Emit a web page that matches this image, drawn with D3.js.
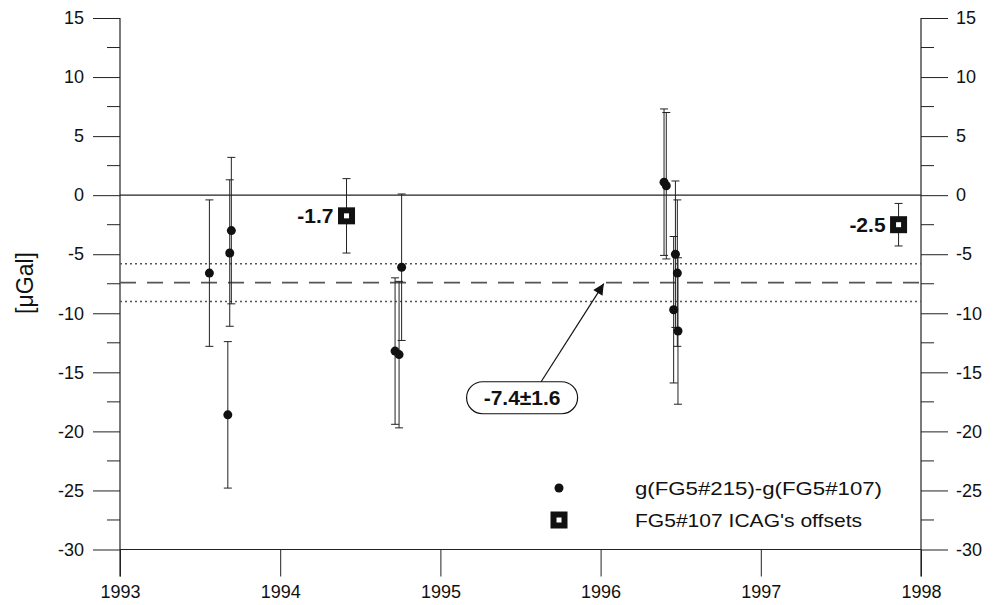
<!DOCTYPE html>
<html><head>
<meta charset="utf-8">
<script src="https://d3js.org/d3.v7.min.js"></script>
<style>
  body { margin: 0; background: #fff; }
  text { font-family: "Liberation Sans", Arial, sans-serif; fill: #111; }
</style>
</head>
<body>
<svg id="chart" width="993" height="605"></svg>
<script>
// --- data ---
// g(FG5#215) - g(FG5#107) comparisons
const dotYears   = [1993.558, 1993.673, 1993.685, 1993.695, 1994.717, 1994.742, 1994.758,
                    1996.396, 1996.410, 1996.456, 1996.467, 1996.479, 1996.483];
const dotOffsets = [-6.6, -18.6, -4.9, -3.0, -13.2, -13.5, -6.1,
                    1.1, 0.8, -9.7, -5.0, -6.6, -11.5];
const dotErrors  = [6.2, 6.2, 6.2, 6.2, 6.2, 6.2, 6.2, 6.2, 6.2, 6.2, 6.2, 6.2, 6.2];

// FG5#107 offsets at the ICAG comparisons
const icagYears   = [1994.414, 1997.86];
const icagOffsets = [-1.75, -2.5];
const icagErrors  = [3.15, 1.8];
const icagLabels  = ["-1.7", "-2.5"];

// weighted mean and its band
const meanOffset = -7.4;
const meanSigma = 1.6;
const meanLabel = "-7.4\u00b11.6";

const xTicks = [1993, 1994, 1995, 1996, 1997, 1998];
const yTicks = [-30, -25, -20, -15, -10, -5, 0, 5, 10, 15];
const yMinorTicks = [-27.5, -22.5, -17.5, -12.5, -7.5, -2.5, 2.5, 7.5, 12.5];

const legendLabels = ["g(FG5#215)-g(FG5#107)", "FG5#107 ICAG's offsets"];

// --- layout ---
let svg = d3.select("#chart");
let x = d3.scaleLinear().domain([1993, 1998]).range([120, 921]);
let y = d3.scaleLinear().domain([-30, 15]).range([549.5, 18]);
const tickLen = 27, minorLen = 13;
const lineCol = "#222";
const plainFmt = d => String(d); // hyphen minus, like the original

// vertical axis lines (run down past -30 to hold the year ticks)
[1993, 1998].forEach(v => {
  svg.append("line")
    .attr("x1", x(v)).attr("x2", x(v))
    .attr("y1", y(15)).attr("y2", y(-30) + tickLen)
    .attr("stroke", lineCol).attr("stroke-width", 1.2);
});

// left & right ticks
let leftAxis = d3.axisLeft(y).tickValues(yTicks).tickSize(tickLen).tickPadding(9).tickFormat(plainFmt);
let rightAxis = d3.axisRight(y).tickValues(yTicks).tickSize(tickLen).tickPadding(8).tickFormat(plainFmt);
[[leftAxis, x(1993)], [rightAxis, x(1998)]].forEach(([ax, px]) => {
  let g = svg.append("g").attr("transform", "translate(" + px + ",0)").call(ax);
  g.select(".domain").remove();
  g.selectAll("line").attr("stroke", lineCol);
  g.selectAll("text").style("font-size", "18px").attr("fill", "#111").style("font-family", "Liberation Sans, Arial");
});
yMinorTicks.forEach(v => {
  svg.append("line").attr("x1", x(1993) - minorLen).attr("x2", x(1993))
    .attr("y1", y(v)).attr("y2", y(v)).attr("stroke", lineCol);
  svg.append("line").attr("x1", x(1998)).attr("x2", x(1998) + minorLen)
    .attr("y1", y(v)).attr("y2", y(v)).attr("stroke", lineCol);
});

// bottom axis sits on -30
let bottomAxis = d3.axisBottom(x).tickValues(xTicks).tickSize(tickLen).tickPadding(9).tickFormat(plainFmt);
let gb = svg.append("g").attr("transform", "translate(0," + y(-30) + ")").call(bottomAxis);
gb.select(".domain").remove();
gb.selectAll("line").attr("stroke", lineCol);
gb.selectAll("text").style("font-size", "18px").attr("fill", "#111").style("font-family", "Liberation Sans, Arial");

// horizontal lines at 0 and -30
[0, -30].forEach(v => {
  svg.append("line").attr("x1", x(1993)).attr("x2", x(1998))
    .attr("y1", y(v)).attr("y2", y(v)).attr("stroke", lineCol).attr("stroke-width", 1.2);
});

// mean and 1-sigma band
svg.append("line").attr("x1", x(1993)).attr("x2", x(1998))
  .attr("y1", y(meanOffset)).attr("y2", y(meanOffset))
  .attr("stroke", "#555").attr("stroke-width", 1.8).attr("stroke-dasharray", "16,11");
[meanOffset + meanSigma, meanOffset - meanSigma].forEach(v => {
  svg.append("line").attr("x1", x(1993)).attr("x2", x(1998))
    .attr("y1", y(v)).attr("y2", y(v))
    .attr("stroke", "#555").attr("stroke-width", 1.5).attr("stroke-dasharray", "2,3");
});

// y label
svg.append("text")
  .attr("transform", "translate(33,283) rotate(-90)")
  .attr("text-anchor", "middle")
  .style("font-size", "23px")
  .text("[\u03bcGal]");

// error bars
function errBar(px, v, e) {
  let g = svg.append("g").attr("stroke", "#222").attr("stroke-width", 1);
  g.append("line").attr("x1", px).attr("x2", px).attr("y1", y(v + e)).attr("y2", y(v - e));
  g.append("line").attr("x1", px - 4).attr("x2", px + 4).attr("y1", y(v + e)).attr("y2", y(v + e));
  g.append("line").attr("x1", px - 4).attr("x2", px + 4).attr("y1", y(v - e)).attr("y2", y(v - e));
}
dotYears.forEach((d, i) => errBar(x(d), dotOffsets[i], dotErrors[i]));
icagYears.forEach((d, i) => errBar(x(d), icagOffsets[i], icagErrors[i]));

// dots
svg.selectAll("circle.pt").data(dotYears).join("circle")
  .attr("class", "pt")
  .attr("cx", d => x(d))
  .attr("cy", (d, i) => y(dotOffsets[i]))
  .attr("r", 4.5)
  .attr("fill", "#111");

// open squares
function square(cx, cy) {
  svg.append("rect").attr("x", cx - 5.5).attr("y", cy - 5.5)
    .attr("width", 11).attr("height", 11)
    .attr("fill", "#fff").attr("stroke", "#111").attr("stroke-width", 6);
}
icagYears.forEach((d, i) => {
  square(x(d), y(icagOffsets[i]));
  svg.append("text")
    .attr("x", x(d) - 13).attr("y", y(icagOffsets[i]) + 7.5)
    .attr("text-anchor", "end")
    .style("font-size", "21px").style("font-weight", "bold")
    .text(icagLabels[i]);
});

// annotation: rounded label + arrow to the mean line
let boxCx = x(1995.51), boxCy = y(-17.15);
svg.append("rect")
  .attr("x", boxCx - 55.5).attr("y", boxCy - 16)
  .attr("width", 111).attr("height", 32).attr("rx", 16)
  .attr("fill", "#fff").attr("stroke", "#111").attr("stroke-width", 1.2);
svg.append("text")
  .attr("x", boxCx).attr("y", boxCy + 7.5)
  .attr("text-anchor", "middle")
  .style("font-size", "21px").style("font-weight", "bold")
  .text(meanLabel);

svg.append("defs").append("marker")
  .attr("id", "arrow").attr("viewBox", "0 0 10 10")
  .attr("refX", 10).attr("refY", 5)
  .attr("markerWidth", 15).attr("markerHeight", 11)
  .attr("markerUnits", "userSpaceOnUse")
  .attr("orient", "auto")
  .append("path").attr("d", "M0,0 L10,5 L0,10 Z").attr("fill", "#111");
svg.append("line")
  .attr("x1", boxCx + 19).attr("y1", boxCy - 16)
  .attr("x2", x(1996.02)).attr("y2", y(meanOffset) + 1)
  .attr("stroke", "#111").attr("stroke-width", 1.2)
  .attr("marker-end", "url(#arrow)");

// legend (the original's legend type is set wide)
let legX = 559, legY = [488, 520];
let legWidths = [247, 227];
svg.append("circle").attr("cx", legX).attr("cy", legY[0]).attr("r", 4.5).attr("fill", "#111");
square(legX, legY[1]);
legendLabels.forEach((t, i) => {
  svg.append("text")
    .attr("x", 635).attr("y", legY[i] + 6.5)
    .attr("textLength", legWidths[i]).attr("lengthAdjust", "spacingAndGlyphs")
    .style("font-size", "18.5px")
    .text(t);
});
</script>
</body>
</html>
